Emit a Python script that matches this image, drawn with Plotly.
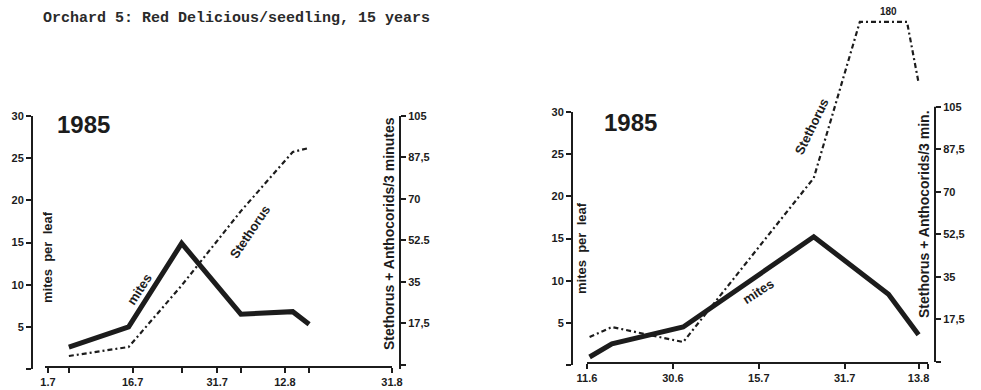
import plotly.graph_objects as go

W, H = 981, 390

TITLE = "Orchard 5: Red Delicious/seedling, 15 years"
YEAR = "1985"

# ---- left panel: x in days after 1 July 1985 ----
L_TICK_DAYS = [0, 15, 30, 42, 61]
L_TICK_TEXT = ["1.7", "16.7", "31.7", "12.8", "31.8"]
L_SAMPLE_DAYS = [3.7, 14.3, 23.7, 34.2, 43.4, 46.3]
L_MITES = [2.6, 5.0, 14.9, 6.5, 6.8, 5.3]
L_STETH = [3.6, 7.4, 33.4, 64.8, 89.8, 91.5]

# ---- right panel: x in sampling-interval units (labels equally spaced) ----
R_TICK_POS = [0, 1, 2, 3, 3.86]
R_TICK_TEXT = ["11.6", "30.6", "15.7", "31.7", "13.8"]
R_SAMPLE_POS = [0.03, 0.29, 1.12, 2.64, 3.51, 3.86]
R_MITES = [0.95, 2.5, 4.5, 15.2, 8.4, 3.6]
R_STETH = [10.3, 14.4, 8.2, 75.7, 180, 115]

MITE_TICKS = [0, 5, 10, 15, 20, 25, 30]
MITE_TICK_TEXT = ["", "5", "10", "15", "20", "25", "30"]
PRED_TICKS = [0, 17.5, 35, 52.5, 70, 87.5, 105]
L_PRED_TICK_TEXT = ["", "17,5", "35", "52.5", "70", "87,5", "105"]
R_PRED_TICK_TEXT = ["", "17,5", "35", "52,5", "70", "87,5", "105"]

INK = "#1c1c1c"
SANS = "Liberation Sans"
PRED_CEILING = 140  # predator values above this are drawn flat at the frame top


def px(x):
    return x / W


def py(y):
    return 1 - y / H


def clip_top(xs, ys, ceiling):
    """Flatten the part of a polyline above `ceiling`, adding the points
    where the line meets it so the flat run starts and ends in place."""
    out_x, out_y = [xs[0]], [min(ys[0], ceiling)]
    for x0, y0, x1, y1 in zip(xs, ys, xs[1:], ys[1:]):
        if (y0 - ceiling) * (y1 - ceiling) < 0:
            t = (ceiling - y0) / (y1 - y0)
            out_x.append(x0 + t * (x1 - x0))
            out_y.append(ceiling)
        out_x.append(x1)
        out_y.append(min(y1, ceiling))
    return out_x, out_y


tick_font = dict(family=SANS, size=11, color=INK, weight="bold")
axis_common = dict(
    showgrid=False, zeroline=False, showline=True, linecolor=INK, linewidth=2,
    ticks="outside", ticklen=5, tickwidth=2, tickcolor=INK, tickfont=tick_font,
    fixedrange=True, automargin=False,
)

mite_line = dict(color=INK, width=5)
pred_line = dict(color=INK, width=2.2, dash="5px,3px,2px,3px")

fig = go.Figure()

# left panel
fig.add_trace(go.Scatter(x=L_SAMPLE_DAYS, y=L_MITES, mode="lines",
                         line=mite_line, xaxis="x", yaxis="y", name="mites"))
fig.add_trace(go.Scatter(x=L_SAMPLE_DAYS, y=L_STETH, mode="lines",
                         line=pred_line, xaxis="x", yaxis="y2", name="Stethorus"))

# right panel
rx, ry = clip_top(R_SAMPLE_POS, R_STETH, PRED_CEILING)
fig.add_trace(go.Scatter(x=R_SAMPLE_POS, y=R_MITES, mode="lines",
                         line=mite_line, xaxis="x2", yaxis="y3", name="mites"))
fig.add_trace(go.Scatter(x=rx, y=ry, mode="lines",
                         line=pred_line, xaxis="x2", yaxis="y4", name="Stethorus"))

l_minor = [L_SAMPLE_DAYS[i] for i in (0, 2, 3, 5)]
r_end = 3.97

fig.update_layout(
    template="none",
    width=W, height=H, margin=dict(l=0, r=0, t=0, b=0, pad=0),
    paper_bgcolor="white", plot_bgcolor="rgba(0,0,0,0)",
    showlegend=False,
    xaxis=dict(**axis_common, domain=[px(45), px(392)], range=[-0.53, 61],
               anchor="free", position=py(367),
               tickvals=L_TICK_DAYS + l_minor,
               ticktext=L_TICK_TEXT + [""] * len(l_minor)),
    yaxis=dict(**axis_common, domain=[py(369), py(116)], range=[0, 30],
               anchor="free", position=px(32), side="left",
               tickvals=MITE_TICKS, ticktext=MITE_TICK_TEXT),
    yaxis2=dict(**axis_common, overlaying="y", range=[-1.9, 105],
                anchor="free", position=px(400), side="right",
                tickvals=PRED_TICKS, ticktext=L_PRED_TICK_TEXT),
    xaxis2=dict(**axis_common, domain=[px(587), px(928)], range=[0, r_end],
                anchor="free", position=py(363),
                tickvals=R_TICK_POS + [r_end],
                ticktext=R_TICK_TEXT + [""]),
    yaxis3=dict(**axis_common, domain=[py(365), py(112)], range=[0, 30],
                anchor="free", position=px(572), side="left",
                tickvals=MITE_TICKS, ticktext=MITE_TICK_TEXT),
    yaxis4=dict(**{**axis_common, "showline": False},
                domain=[py(362), py(15)], range=[0, 142.8],
                anchor="free", position=px(935), side="right",
                tickvals=PRED_TICKS, ticktext=R_PRED_TICK_TEXT),
)

# right-hand predator scale only runs up to its top tick
fig.add_shape(type="line", xref="paper", yref="y4",
              x0=px(935), x1=px(935), y0=0, y1=PRED_TICKS[-1],
              line=dict(color=INK, width=2))

ann = []
ann.append(dict(text=TITLE, xref="paper", yref="paper", x=px(41), y=py(18),
                xanchor="left", yanchor="middle", showarrow=False,
                font=dict(family="Liberation Mono", size=15, color="#2a2a2a",
                          weight="bold")))


def centered(text, cx, cy, font, angle=0):
    return dict(text=text, xref="paper", yref="paper", x=px(cx), y=py(cy),
                xanchor="center", yanchor="middle", textangle=angle,
                showarrow=False, font=font)


year_font = dict(family=SANS, size=24, color=INK, weight="bold")
for cx, cy in ((83, 125), (630, 122)):
    ann.append(centered(YEAR, cx, cy, year_font))

leaf_font = dict(family=SANS, size=13, color=INK, weight="bold")
pred_font = dict(family=SANS, size=14, color=INK, weight="bold")
for text, cx, cy, font in (("mites  per  leaf", 47, 257, leaf_font),
                           ("mites  per  leaf", 582, 248, leaf_font),
                           ("Stethorus + Anthocorids/3 minutes", 389, 234, pred_font),
                           ("Stethorus + Anthocorids/3 min.", 924, 214, pred_font)):
    ann.append(centered(text, cx, cy, font, -90))

label_font = dict(family=SANS, size=13, color=INK, weight="bold")
for text, cx, cy, ang in (("mites", 139, 289, -57),
                          ("Stethorus", 250, 231, -56),
                          ("mites", 758, 291, -33),
                          ("Stethorus", 812, 127, -64)):
    ann.append(centered(text, cx, cy, label_font, ang))

# off-scale peak value printed above the flattened run
peak_i = max(range(len(R_STETH)), key=lambda i: R_STETH[i])
ann.append(dict(text=f"{R_STETH[peak_i]:.0f}", xref="x2", yref="y4",
                x=R_SAMPLE_POS[peak_i], y=PRED_CEILING, yshift=10,
                xanchor="center", yanchor="middle", showarrow=False,
                font=dict(family=SANS, size=10, color=INK, weight="bold")))

fig.update_layout(annotations=ann)

fig.write_html("out.html")
